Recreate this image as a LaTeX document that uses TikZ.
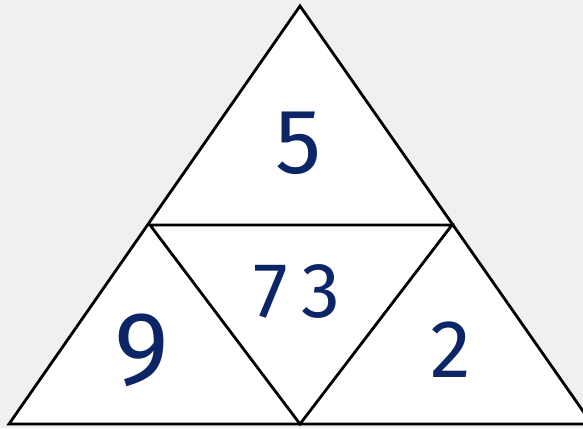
\documentclass[tikz,border=0pt]{standalone}
\usepackage{fontspec}
\setmainfont{Fira Sans}
\usepackage{xcolor}
\definecolor{inkblue}{HTML}{0B2566}
\definecolor{paper}{HTML}{F0F0F0}
\usetikzlibrary{positioning}

\begin{document}
\begin{tikzpicture}[
        x=1pt, y=-1pt,
        edge/.style={draw=black, line width=2.8pt, line join=miter},
        digit/.style={text=inkblue, inner sep=0pt, anchor=center}
        ]
        % Background
        \fill [paper] (0,0) rectangle (583,428);
        \useasboundingbox (0,0) rectangle (583,428);
        \clip (0,0) rectangle (583,428);

        % Corners
        \coordinate (apex) at (300,6);
        \coordinate (left) at (9,424);
        \coordinate (right) at (592,424);
        \coordinate (midleft) at (150,225);
        \coordinate (midright) at (452,225);
        \coordinate (midbase) at (300,424);

        % Triangle
        \path [edge, fill=white] (apex) -- (left) -- (right) -- cycle;
        \path [edge] (midleft) -- (midright) -- (midbase) -- cycle;

        % Numbers
        \node [digit, font=\fontsize{92}{92}\selectfont] (top) at (299,143) {5};
        \node [digit, font=\fontsize{78}{78}\selectfont] (centre) at (297,291) {7\,3};
        \node [digit, font=\fontsize{104}{104}\selectfont] (leftnum) at (142,350) {9};
        \node [digit, font=\fontsize{82}{82}\selectfont] (rightnum) at (451,350) {2};
\end{tikzpicture}
\end{document}
